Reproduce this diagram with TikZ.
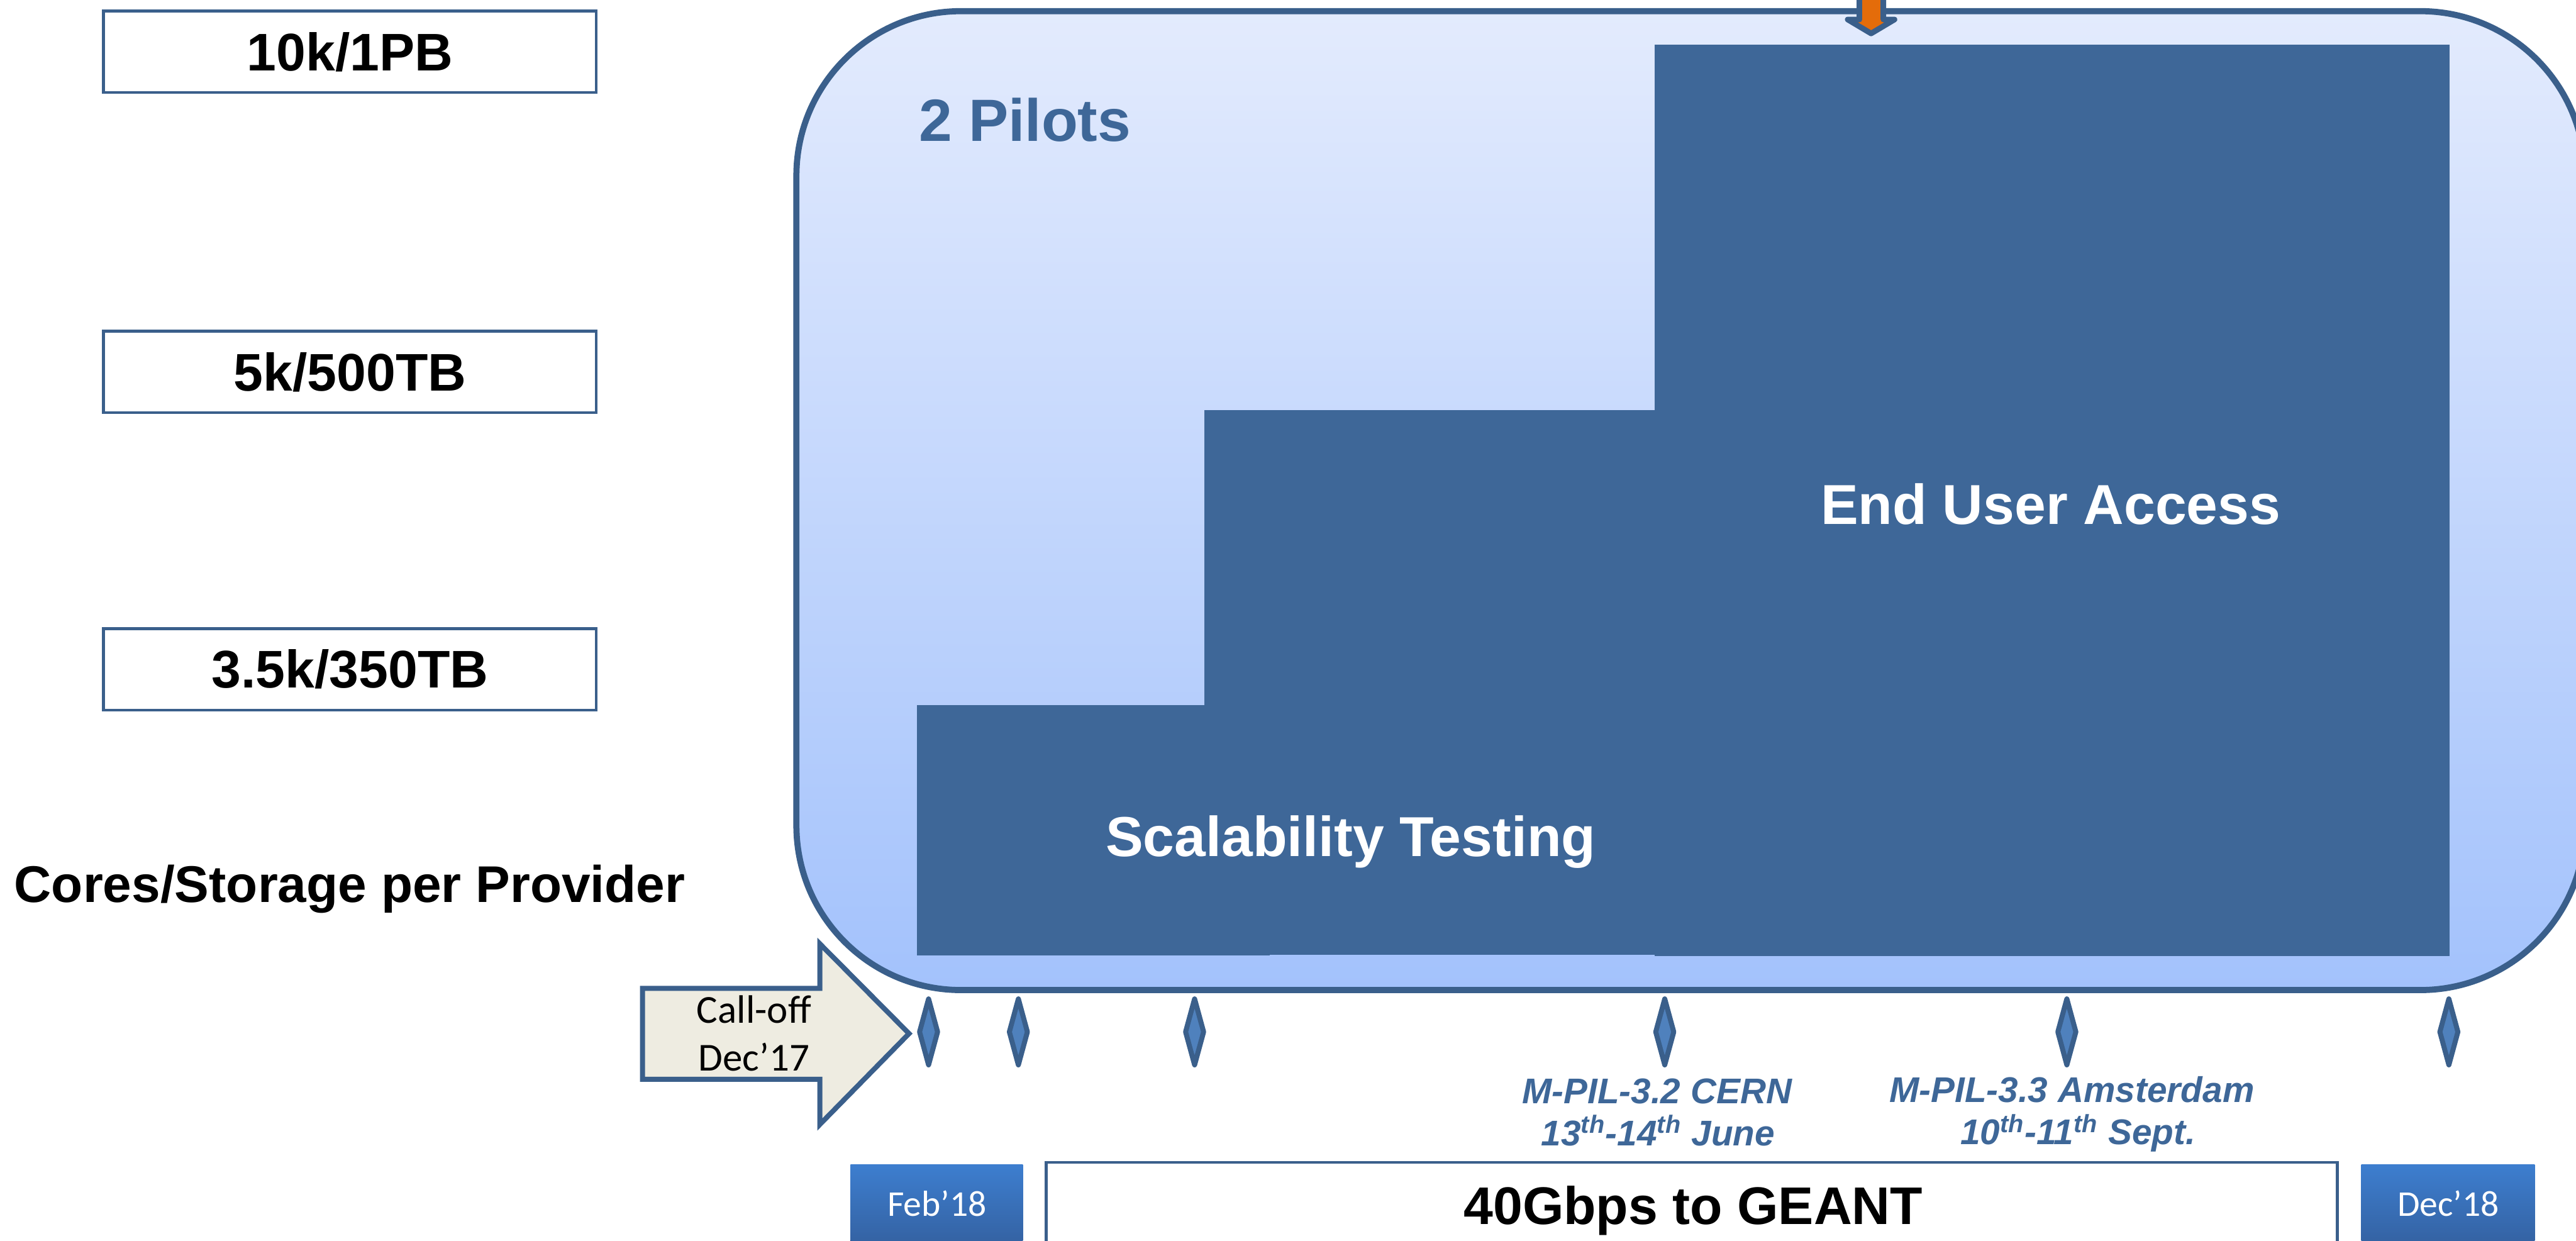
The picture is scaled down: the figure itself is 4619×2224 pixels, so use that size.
\documentclass[tikz,border=0pt]{standalone}
\usepackage{fontspec}
\usetikzlibrary{shapes.geometric}
\setmainfont{Liberation Sans}
\newfontfamily\calibri{Carlito}
\definecolor{edgeblue}{HTML}{3A5F8B}
\definecolor{blockblue}{HTML}{3E6798}
\definecolor{gemblue}{HTML}{4F81BD}
\definecolor{paneltop}{HTML}{E3EBFD}
\definecolor{panelbot}{HTML}{A3C2FC}
\definecolor{arroworange}{HTML}{E46C0A}
\definecolor{paper}{HTML}{EEECE1}
\definecolor{tabtop}{HTML}{3D7ECF}
\definecolor{tabbot}{HTML}{335E9C}
\begin{document}
\begin{tikzpicture}[x=0.01cm,y=-0.01cm,
  capbox/.style={draw=edgeblue, line width=0.05cm, fill=white, inner sep=0pt,
    minimum width=8.83cm, minimum height=1.46cm,
    font=\bfseries\fontsize{27pt}{32pt}\selectfont},
  bigtext/.style={inner sep=0pt, anchor=base, font=\bfseries\fontsize{27pt}{32pt}\selectfont},
  steptext/.style={inner sep=0pt, anchor=base, text=white, font=\bfseries\fontsize{28.7pt}{34pt}\selectfont},
  milestone/.style={diamond, draw=edgeblue, fill=gemblue, line width=0.09cm, line join=round,
    inner sep=0pt, minimum width=0.36cm, minimum height=1.22cm},
  mlabel/.style={inner sep=0pt, anchor=base, text=blockblue,
    font=\bfseries\itshape\fontsize{18.2pt}{22pt}\selectfont},
  tab/.style={top color=tabtop, bottom color=tabbot, draw=none},
  tabtext/.style={inner sep=0pt, anchor=base, text=white, font=\calibri\fontsize{18.5pt}{22pt}\selectfont}]

\useasboundingbox (0,0) rectangle (4619,2224);
\clip (0,0) rectangle (4619,2224);

% capacity levels
\node[capbox] (c10k) at (627.5,93) {10k/1PB};
\node[capbox] (c5k) at (627.5,667) {5k/500TB};
\node[capbox] (c35k) at (627.5,1200) {3.5k/350TB};
\node[bigtext, font=\bfseries\fontsize{26.3pt}{32pt}\selectfont] (cores) at (627,1618) {Cores/Storage per Provider};

% pilot phase panel
\draw[draw=edgeblue, line width=0.11cm, top color=paneltop, bottom color=panelbot,
  rounded corners=2.95cm] (1428,20) rectangle (4635,1775);

% staircase of phases
\fill[blockblue] (1644,1264) rectangle (2277,1713);
\fill[blockblue] (2159,735) rectangle (2967,1712);
\fill[blockblue] (2967,80) rectangle (4392,1714);

\node[inner sep=0pt, anchor=base west, text=blockblue,
  font=\bfseries\fontsize{30.4pt}{36pt}\selectfont] (pilots) at (1647,253) {2 Pilots};
\node[steptext] (eua) at (3677,940) {End User Access};
\node[steptext] (scal) at (2422,1535) {Scalability Testing};

% incoming arrow from above
\draw[draw=edgeblue, fill=arroworange, line width=0.1cm, line join=round]
  (3334,-40) -- (3334,35) -- (3313,35) -- (3355,60) -- (3397,35) -- (3377,35) -- (3377,-40);

% call-off arrow
\draw[draw=edgeblue, fill=paper, line width=0.09cm, line join=miter]
  (1152,1772) -- (1470,1772) -- (1470,1692) -- (1630,1853) -- (1470,2016)
  -- (1470,1935) -- (1152,1935) -- cycle;
\node[inner sep=0pt, anchor=base, font=\calibri\fontsize{20.2pt}{24pt}\selectfont]
  (calloff) at (1352,1834) {Call-off};
\node[inner sep=0pt, anchor=base, font=\calibri\fontsize{20.2pt}{24pt}\selectfont]
  (dec17) at (1352,1920) {Dec’17};

% milestones
\node[milestone] (m1) at (1665,1850) {};
\node[milestone] (m2) at (1826,1850) {};
\node[milestone] (m3) at (2142,1850) {};
\node[milestone] (m4) at (2985,1850) {};
\node[milestone] (m5) at (3706,1850) {};
\node[milestone] (m6) at (4391,1850) {};

\node[mlabel] (cern) at (2971,1978) {M-PIL-3.2 CERN};
\node[mlabel] (cernd) at (2973,2054) {13\textsuperscript{th}-14\textsuperscript{th} June};
\node[mlabel] (ams) at (3715,1976) {M-PIL-3.3 Amsterdam};
\node[mlabel] (amsd) at (3726,2052) {10\textsuperscript{th}-11\textsuperscript{th} Sept.};

% timeline bar
\fill[tab] (1525,2088) rectangle (1834,2250);
\node[tabtext] (feb) at (1680,2180) {Feb’18};
\draw[draw=edgeblue, line width=0.05cm, fill=white] (1876,2084) rectangle (4191,2260);
\node[bigtext] (geant) at (3036,2195) {40Gbps to GEANT};
\fill[tab] (4234,2088) rectangle (4545,2250);
\node[tabtext] (dec18) at (4390,2180) {Dec’18};
\end{tikzpicture}
\end{document}
